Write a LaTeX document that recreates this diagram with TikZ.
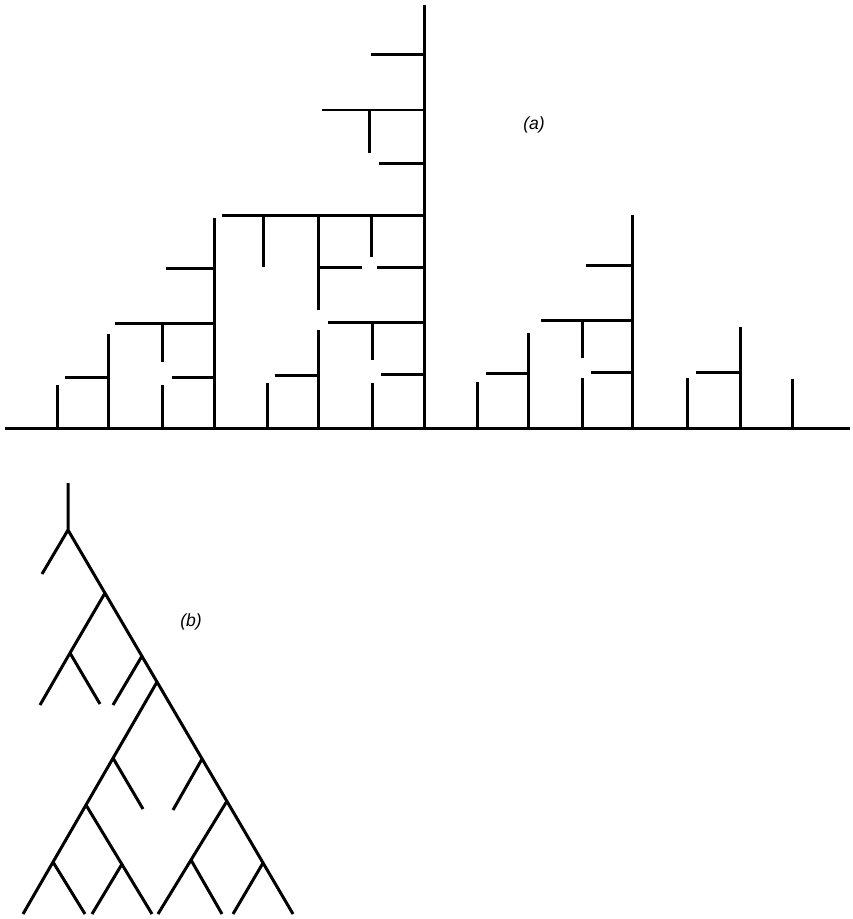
\documentclass[tikz,border=0pt]{standalone}
\usepackage{fontspec}
\setsansfont{Liberation Sans}
\tikzset{stroke/.style={line width=0.6mm},tag/.style={font=\sffamily\itshape\fontsize{10}{12}\selectfont,inner sep=0pt}}

\begin{document}
\begin{tikzpicture}[x=0.02cm,y=-0.02cm]
\useasboundingbox (0,0) rectangle (852,919);
% (a) comb tree on the base line
\draw[stroke] (5,428) -- (850,428);
\foreach \x/\a/\b in {424/5/428,369/110/153,214/218/428,263/215/267,318/215/310,371/215/257,372/322/360,318/330/428,267/383/428,372/383/428,162/323/362,162/385/428,108/334/428,57/385/428,632/215/428,582/320/358,582/378/428,528/333/428,477/382/428,740/327/428,687/378/428,792/379/428}{\draw[stroke] (\x,\a) -- (\x,\b);}
\foreach \y/\a/\b in {55/371/424,110/322/424,163/379/424,215/222/424,267/320/362,267/377/424,268/166/214,322/328/424,375/275/318,374/381/424,323/115/214,377/172/214,377/65/108,265/586/632,320/541/632,372/591/632,373/486/528,372/696/740}{\draw[stroke] (\a,\y) -- (\b,\y);}
\node[tag] (la) at (534,125) {(a)};
% (b) branching tree
\coordinate (top) at (68,483);
\coordinate (A) at (68,530);
\coordinate (B) at (105,593);
\coordinate (C) at (142,656);
\coordinate (D) at (157,682);
\coordinate (E) at (202,759);
\coordinate (F) at (227,801);
\coordinate (G) at (263,863);
\coordinate (Z) at (293,914);
\coordinate (H) at (70,653);
\coordinate (I) at (113,758);
\coordinate (J) at (86,805);
\coordinate (K) at (53,862);
\coordinate (L) at (122,864);
\coordinate (M) at (191,860);
\coordinate (a1) at (42,574);
\coordinate (h1) at (40,705);
\coordinate (h2) at (100,704);
\coordinate (c1) at (113,705);
\coordinate (d9) at (23,914);
\coordinate (i1) at (143,809);
\coordinate (j9) at (152,914);
\coordinate (l1) at (92,914);
\coordinate (k1) at (85,914);
\coordinate (e1) at (173,810);
\coordinate (f9) at (158,914);
\coordinate (m1) at (222,914);
\coordinate (g1) at (233,914);
\draw[stroke] (top) -- (A) -- (Z);
\draw[stroke] (A) -- (a1);
\draw[stroke] (B) -- (H) -- (h1);
\draw[stroke] (H) -- (h2);
\draw[stroke] (C) -- (c1);
\draw[stroke] (D) -- (d9);
\draw[stroke] (I) -- (i1);
\draw[stroke] (J) -- (j9);
\draw[stroke] (L) -- (l1);
\draw[stroke] (K) -- (k1);
\draw[stroke] (E) -- (e1);
\draw[stroke] (F) -- (f9);
\draw[stroke] (M) -- (m1);
\draw[stroke] (G) -- (g1);
\node[tag] (lb) at (191,622) {(b)};
\end{tikzpicture}
\end{document}
